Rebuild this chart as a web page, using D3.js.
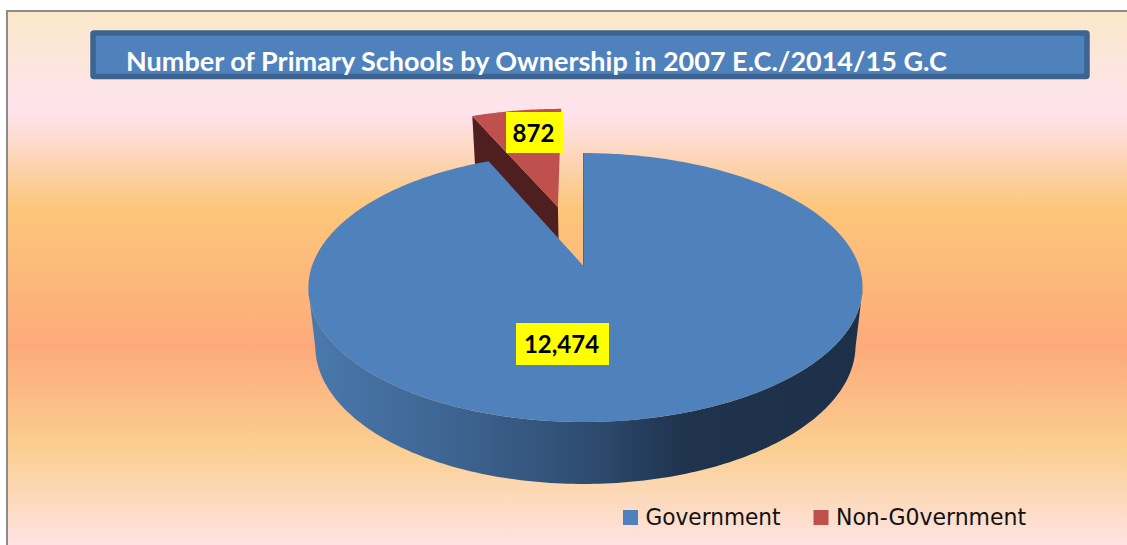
<!DOCTYPE html>
<html><head><meta charset="utf-8">
<script src="https://cdn.jsdelivr.net/npm/d3@7"></script>
<style>html,body{margin:0;padding:0;background:#fff;overflow:hidden}svg{display:block}</style>
</head><body><svg id="c" width="1127" height="545"></svg>
<script>
const titleText = "Number of Primary Schools by Ownership in 2007 E.C./2014/15 G.C";
const categories = ["Government", "Non-G0vernment"];
const values = [12474, 872];
const valueLabels = ["12,474", "872"];
const colors = ["#4f81bd", "#c0504d"];
const explode = [0, 0.495];

const svg = d3.select("#c");
const defs = svg.append("defs");

const bgStops = [[0,"#fbe8c8"],[0.19,"#fee3ee"],[0.37,"#fcc67a"],[0.63,"#fdaa7b"],[0.82,"#fbcf90"],[1,"#fee3e3"]];
const bg = defs.append("linearGradient").attr("id","bg").attr("x1",0).attr("x2",0).attr("y1",0).attr("y2",1);
bg.selectAll("stop").data(bgStops).join("stop").attr("offset",d=>d[0]).attr("stop-color",d=>d[1]);

const sideStops = [[0,"#4a79ad"],[0.25,"#3e6592"],[0.5,"#2f4d72"],[0.68,"#1f334d"],[1,"#1d3049"]];
const sg = defs.append("linearGradient").attr("id","side").attr("x1",0).attr("x2",1).attr("y1",0).attr("y2",0);
sg.selectAll("stop").data(sideStops).join("stop").attr("offset",d=>d[0]).attr("stop-color",d=>d[1]);

svg.append("rect").attr("x",7).attr("y",11).attr("width",1120).attr("height",534).attr("fill","url(#bg)");
svg.append("path").attr("d","M7,545V11H1127").attr("fill","none").attr("stroke","#8c8c8c").attr("stroke-width",2);

svg.append("rect").attr("x",93).attr("y",33).attr("width",994).attr("height",43.5).attr("rx",1)
  .attr("fill","#4f81bd").attr("stroke","#3d6391").attr("stroke-width",5.5);
svg.append("text").attr("x",126).attr("y",71).attr("fill","#fff")
  .attr("font-family","Lato").attr("font-weight",700).attr("font-size",27).text(titleText);

// Perspective projection of the unit pie disc
const cx = 583.5, cy = 266, R = 273.5, A = 131, K = 0.16;
const persp = v => 1 / (1 - K * v);
const depth = d3.scaleLinear().domain([-1.42,-0.5,0.17,1]).range([50,32,58,62]);
const shrink = 0.975;
const top3 = (u,v) => [cx + R*u*persp(v) + 2*u*u, cy + A*v*persp(v)];
const bot3 = (u,v) => { const p = top3(u,v); return [cx + (p[0]-cx)*shrink, p[1] + depth(v)]; };

const arcs = d3.pie().sort(null).value(d=>d)(values);
const line = d3.line();
const offset = (a,i) => {
  const m = (a.startAngle + a.endAngle)/2;
  return [explode[i]*Math.sin(m), -explode[i]*Math.cos(m)];
};
const rimPts = (a,i,n=180) => {
  const o = offset(a,i);
  return d3.range(n+1).map(k => {
    const t = a.startAngle + (a.endAngle-a.startAngle)*k/n;
    return [o[0]+Math.sin(t), o[1]-Math.cos(t)];
  });
};

// Non-government slice: dark cut face then top
{
  const a = arcs[1], o = offset(a,1);
  const outer = [o[0]+Math.sin(a.startAngle), o[1]-Math.cos(a.startAngle)];
  svg.append("path").attr("fill","#4f1f1f").attr("d", line([
    top3(o[0],o[1]), top3(outer[0],outer[1]), bot3(outer[0],outer[1]), bot3(o[0],o[1])
  ])+"Z");
  const pts = [o].concat(rimPts(a,1,40));
  svg.append("path").attr("fill",colors[1]).attr("d", line(pts.map(p=>top3(p[0],p[1])))+"Z");
}

// Government slice: side wall then top
{
  const a = arcs[0];
  const ang = d3.range(100,261,1).map(d=>d*Math.PI/180);
  const uv = ang.map(t=>[Math.sin(t),-Math.cos(t)]);
  const wall = uv.map(p=>top3(p[0],p[1])).concat(uv.slice().reverse().map(p=>bot3(p[0],p[1])));
  svg.append("path").attr("fill","url(#side)").attr("d", line(wall)+"Z");
  const pts = [[0,0]].concat(rimPts(a,0,360));
  svg.append("path").attr("fill",colors[0]).attr("d", line(pts.map(p=>top3(p[0],p[1])))+"Z");
  svg.append("path").attr("fill","none").attr("stroke","#1f334d").attr("stroke-width",1).attr("stroke-opacity",0.55)
    .attr("d", line([top3(0,0), top3(0,-1)]));
}

// Data labels
const labelBoxes = [[516,323,93,42],[506,112,57,41]];
valueLabels.forEach((t,i)=>{
  const b = labelBoxes[i];
  svg.append("rect").attr("x",b[0]).attr("y",b[1]).attr("width",b[2]).attr("height",b[3]).attr("fill","#ffff00");
  svg.append("text").attr("x",b[0]+b[2]/2-1).attr("y",b[1]+b[3]/2+9).attr("text-anchor","middle")
    .attr("font-family","Lato").attr("font-weight",700).attr("font-size",24).attr("fill","#000").text(t);
});

// Legend
const legendX = [623, 813.5];
const legendWidths = [135, 190];
categories.forEach((c,i)=>{
  svg.append("rect").attr("x",legendX[i]).attr("y",510).attr("width",15).attr("height",15).attr("fill",colors[i]);
  svg.append("text").attr("x",legendX[i]+22.5).attr("y",525).attr("font-family","DejaVu Sans")
    .attr("font-size",23).attr("textLength",legendWidths[i]).attr("lengthAdjust","spacingAndGlyphs")
    .attr("fill","#111").text(c);
});
</script></body></html>
